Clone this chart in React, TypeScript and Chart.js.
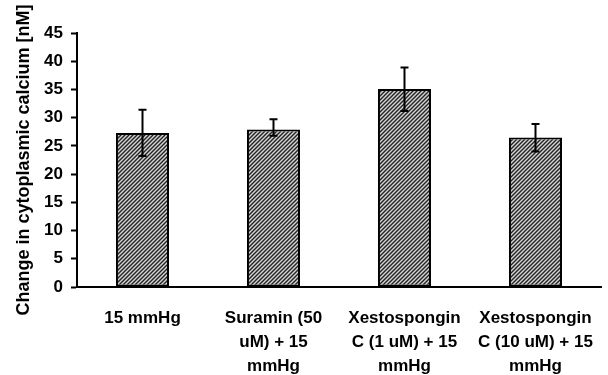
import React, { useEffect, useRef } from "react";
import { Chart, registerables } from "chart.js";

Chart.register(...registerables);

const categories: string[][] = [
  ["15 mmHg"],
  ["Suramin (50", "uM) + 15", "mmHg"],
  ["Xestospongin", "C (1 uM) + 15", "mmHg"],
  ["Xestospongin", "C (10 uM) + 15", "mmHg"],
];
const values: number[] = [27.3, 27.9, 35.1, 26.5];
const errUp: number[] = [4.1, 1.8, 3.8, 2.4];
const errDown: number[] = [4.1, 1.1, 3.9, 2.5];
const yTitle = "Change in cytoplasmic calcium [nM]";
const yMin = 0;
const yMax = 45;
const yStep = 5;

const FONT = "Arial, 'Liberation Sans', sans-serif";

function makePattern(): CanvasPattern | string {
  const c = document.createElement("canvas");
  const s = 4;
  c.width = s;
  c.height = s;
  const ctx = c.getContext("2d");
  if (!ctx) return "#888";
  ctx.fillStyle = "#d4d4d4";
  ctx.fillRect(0, 0, s, s);
  ctx.strokeStyle = "#222";
  ctx.lineWidth = 1.4;
  ctx.beginPath();
  ctx.moveTo(-1, s + 1);
  ctx.lineTo(s + 1, -1);
  ctx.moveTo(-1, 1);
  ctx.lineTo(1, -1);
  ctx.moveTo(s - 1, s + 1);
  ctx.lineTo(s + 1, s - 1);
  ctx.stroke();
  const p = ctx.createPattern(c, "repeat");
  return p || "#888";
}

const errorBarPlugin = {
  id: "errorBars",
  afterDatasetsDraw(chart: any) {
    const ctx = chart.ctx;
    const meta = chart.getDatasetMeta(0);
    const yScale = chart.scales.y;
    ctx.save();
    ctx.strokeStyle = "#000";
    ctx.lineWidth = 2;
    meta.data.forEach((bar: any, i: number) => {
      const x = bar.x;
      const yTop = yScale.getPixelForValue(values[i] + errUp[i]);
      const yBot = yScale.getPixelForValue(values[i] - errDown[i]);
      ctx.beginPath();
      ctx.moveTo(x, yTop);
      ctx.lineTo(x, yBot);
      ctx.moveTo(x - 4, yTop);
      ctx.lineTo(x + 4, yTop);
      ctx.moveTo(x - 4, yBot);
      ctx.lineTo(x + 4, yBot);
      ctx.stroke();
    });
    ctx.restore();
  },
};

export default function App() {
  const ref = useRef<HTMLCanvasElement>(null);
  useEffect(() => {
    document.body.style.margin = "0";
    const canvas = ref.current;
    if (!canvas) return;
    const chart = new Chart(canvas, {
      type: "bar",
      data: {
        labels: categories,
        datasets: [
          {
            data: values,
            backgroundColor: makePattern() as any,
            borderColor: "#000",
            borderWidth: 2,
            borderSkipped: false,
            barPercentage: 0.405,
            categoryPercentage: 1,
          },
        ],
      },
      options: {
        responsive: false,
        animation: false,
        layout: { padding: { top: 33, right: 7, left: 0, bottom: 0 } },
        plugins: {
          legend: { display: false },
          tooltip: { enabled: false },
        },
        scales: {
          x: {
            grid: { display: false, drawTicks: false },
            border: { display: true, color: "#000", width: 2 },
            ticks: {
              color: "#000",
              padding: 19,
              maxRotation: 0,
              autoSkip: false,
              font: { family: FONT, size: 17, weight: "bold", lineHeight: 1.41 },
            },
            afterFit(scale: any) {
              scale.height = 88;
              scale.paddingLeft = 0;
              scale.paddingRight = 0;
            },
          },
          y: {
            min: yMin,
            max: yMax,
            grid: {
              display: true,
              drawOnChartArea: false,
              drawTicks: true,
              tickLength: 6,
              tickWidth: 2,
              tickColor: "#000",
            },
            border: { display: true, color: "#000", width: 2 },
            ticks: {
              stepSize: yStep,
              color: "#000",
              padding: 8,
              font: { family: FONT, size: 17, weight: "bold" },
            },
            title: {
              display: true,
              text: yTitle,
              color: "#000",
              padding: { top: 13, bottom: 0 },
              font: { family: FONT, size: 18, weight: "bold" },
            },
            afterFit(scale: any) {
              scale.width = 77;
            },
          },
        },
      },
      plugins: [errorBarPlugin],
    } as any);
    return () => chart.destroy();
  }, []);
  return (
    <div style={{ width: 608, height: 375, background: "#fff" }}>
      <canvas ref={ref} width={608} height={375} />
    </div>
  );
}
